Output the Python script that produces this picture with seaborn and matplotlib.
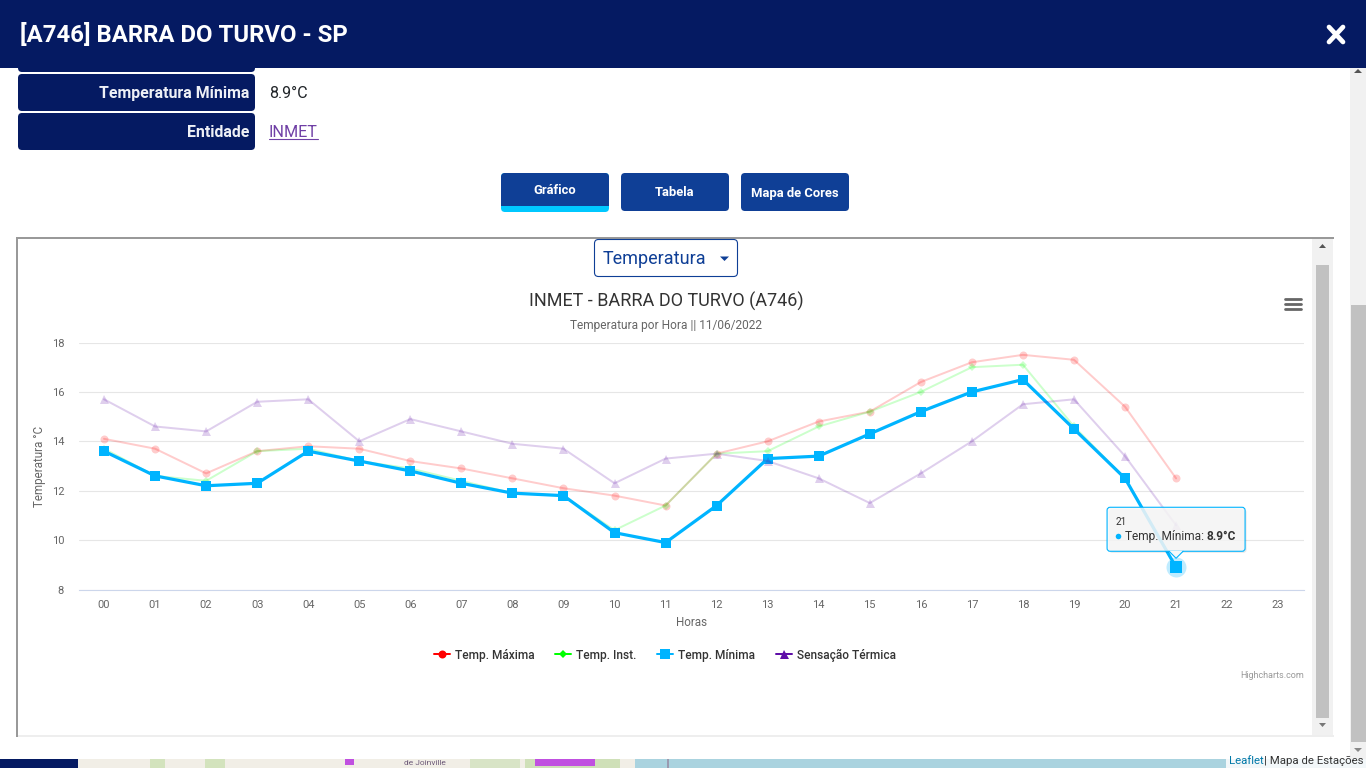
import matplotlib
matplotlib.use('Agg')
import matplotlib.pyplot as plt
from matplotlib.lines import Line2D
from matplotlib.patches import FancyBboxPatch, Polygon, Rectangle
import pandas as pd
import seaborn as sns

hours = list(range(22))
hour_labels = ['%02d' % h for h in range(24)]
y_ticks = [8, 10, 12, 14, 16, 18]

temp_max = [14.1, 13.7, 12.7, 13.6, 13.8, 13.7, 13.2, 12.9, 12.5, 12.1, 11.8, 11.4,
            13.5, 14.0, 14.8, 15.2, 16.4, 17.2, 17.5, 17.3, 15.4, 12.5]
temp_inst = [13.7, 12.6, 12.4, 13.6, 13.7, 13.2, 12.9, 12.4, 11.9, 11.8, 10.4, 11.4,
             13.5, 13.6, 14.6, 15.2, 16.0, 17.0, 17.1, 14.6, 12.5, 8.9]
temp_min = [13.6, 12.6, 12.2, 12.3, 13.6, 13.2, 12.8, 12.3, 11.9, 11.8, 10.3, 9.9,
            11.4, 13.3, 13.4, 14.3, 15.2, 16.0, 16.5, 14.5, 12.5, 8.9]
sensacao = [15.7, 14.6, 14.4, 15.6, 15.7, 14.0, 14.9, 14.4, 13.9, 13.7, 12.3, 13.3,
            13.5, 13.2, 12.5, 11.5, 12.7, 14.0, 15.5, 15.7, 13.4, 10.6]

NAVY = '#051a62'
BUTTON = '#0f3f96'
CYAN = '#00c8ff'
BLUE = '#00b4ff'
W, H = 1366, 768

sns.set_theme(style='white')
plt.rcParams['font.family'] = ['Roboto', 'DejaVu Sans']

fig = plt.figure(figsize=(W / 100, H / 100), dpi=100, facecolor='white')

# page chrome, in pixel coordinates
bg = fig.add_axes([0, 0, 1, 1], zorder=0)
bg.set_xlim(0, W)
bg.set_ylim(H, 0)
bg.axis('off')


def rect(x0, y0, x1, y1, color, axes=bg):
    axes.add_patch(Rectangle((x0, y0), x1 - x0, y1 - y0, fc=color, ec='none'))


def rounded(x0, y0, x1, y1, color, r=4, ec='none', lw=0, axes=bg):
    axes.add_patch(FancyBboxPatch((x0 + r, y0 + r), x1 - x0 - 2 * r, y1 - y0 - 2 * r,
                                  boxstyle='round,pad=%d,rounding_size=%d' % (r, r),
                                  fc=color, ec=ec, lw=lw))


def tri(points, color, axes=bg):
    axes.add_patch(Polygon(points, closed=True, fc=color, ec='none'))


# info rows
rounded(18, 60, 255, 72, NAVY)
rounded(18, 74, 255, 111, NAVY)
rounded(18, 113, 255, 150, NAVY)
bg.text(249, 93.5, 'Temperatura Mínima', color='#eef0f6', fontsize=11.4, fontweight='bold', ha='right', va='center')
bg.text(249, 132.5, 'Entidade', color='#eef0f6', fontsize=11.4, fontweight='bold', ha='right', va='center')
bg.text(269, 93.5, '8.9°C', color='#212529', fontsize=11.6, ha='left', va='center')
bg.text(269, 132.5, 'INMET', color='#6f3fa5', fontsize=11.6, ha='left', va='center')
bg.plot([269, 318], [139, 139], color='#6f3fa5', lw=0.8)

# header
rect(0, 0, W, 68, NAVY)
bg.text(20, 35.5, '[A746] BARRA DO TURVO - SP', color='white', fontsize=17.2, fontweight='bold', ha='left', va='center')
bg.plot([1329, 1343], [27, 42], color='white', lw=3.4, solid_capstyle='round')
bg.plot([1343, 1329], [27, 42], color='white', lw=3.4, solid_capstyle='round')

# buttons
rounded(501, 173, 609, 212, CYAN)
rounded(501, 173, 609, 206, BUTTON)
rect(501, 198, 609, 206, BUTTON)
rounded(621, 173, 729, 211, BUTTON)
rounded(741, 173, 849, 211, BUTTON)
bg.text(554.5, 190, 'Gráfico', color='white', fontsize=9.4, fontweight='bold', ha='center', va='center')
bg.text(674.5, 193, 'Tabela', color='white', fontsize=9.4, fontweight='bold', ha='center', va='center')
bg.text(794.5, 193, 'Mapa de Cores', color='white', fontsize=9.4, fontweight='bold', ha='center', va='center')

# chart frame and scrollbars
rect(16, 237, 1334, 239, '#999999')
rect(16, 237, 18, 737, '#999999')
rect(18, 735, 1334, 737, '#eeeeee')
rect(1312, 239, 1333, 735, '#f1f1f1')
rect(1316, 265, 1329, 718, '#c1c1c1')
tri([(1319, 248), (1326, 248), (1322.5, 244)], '#555555')
tri([(1319, 723), (1326, 723), (1322.5, 727)], '#777777')
rect(1350, 68, W, 759, '#f1f1f1')
rect(1351, 305, W, 742, '#c1c1c1')
tri([(1354, 73), (1362, 73), (1358, 69)], '#555555')
tri([(1354, 748), (1362, 748), (1358, 752)], '#888888')

# select box
rounded(594.5, 239.5, 737.5, 276.5, 'white', r=4, ec=BUTTON, lw=0.8)
bg.text(603, 259, 'Temperatura', color=BUTTON, fontsize=13, ha='left', va='center')
tri([(720, 256.5), (729, 256.5), (724.5, 261)], BUTTON)

# chart titles
bg.text(666, 301.5, 'INMET - BARRA DO TURVO (A746)', color='#333333', fontsize=13, ha='center', va='center')
bg.text(666, 325, 'Temperatura por Hora || 11/06/2022', color='#666666', fontsize=8.6, ha='center', va='center')
for y in [299, 304, 309]:
    bg.plot([1285, 1301], [y, y], color='#666666', lw=2)
bg.text(1304, 675, 'Highcharts.com', color='#999999', fontsize=6.5, ha='right', va='center')

# map strip at the bottom
rect(0, 759, 78, H, NAVY)
rect(78, 759, 635, H, '#f1eee6')
rect(150, 759, 165, H, '#d3e3bd')
rect(205, 759, 225, H, '#d3e3bd')
rect(470, 759, 520, H, '#d8e4c6')
rect(525, 759, 620, H, '#cfe0b8')
rect(535, 759, 595, 766, '#c050e0')
rect(345, 759, 354, 765, '#c050e0')
rect(635, 759, 1226, H, '#aad3df')
rect(667, 759, 669, H, '#9a9ab0')
rect(1226, 759, W, H, '#f2f7f9')
bg.text(425, 763, 'de Joinville', color='#6d5a78', fontsize=6, ha='center', va='center')
clip = Rectangle((1226, 759), W - 1226, H - 759, transform=bg.transData)
t = bg.text(1229, 761, 'Leaflet', color='#0078a8', fontsize=8.2, ha='left', va='center')
t.set_clip_path(clip)
t = bg.text(1264, 761, '| Mapa de Estações', color='#333333', fontsize=8.2, ha='left', va='center')
t.set_clip_path(clip)

# the chart itself
x0, x1 = 78.5, 1303.7
y_top, y_bot = 342.5, 589.5
ax = fig.add_axes([x0 / W, 1 - y_bot / H, (x1 - x0) / W, (y_bot - y_top) / H], zorder=2)
ax.patch.set_alpha(0)

series = [
    ('Temp. Máxima', temp_max, '#ff0000', 'o', 2.0, 8, 0.2),
    ('Temp. Inst.', temp_inst, '#00ff00', 'D', 2.0, 5.5, 0.2),
    ('Temp. Mínima', temp_min, BLUE, 's', 3.2, 10, 1.0),
    ('Sensação Térmica', sensacao, '#5f0fa8', '^', 2.0, 9, 0.2),
]

handles = []
for name, values, color, marker, lw, ms, alpha in series:
    df = pd.DataFrame({'hora': hours, 'temp': values})
    sns.lineplot(data=df, x='hora', y='temp', ax=ax, color=color, marker=marker, linewidth=lw * 0.72,
                 markersize=ms * 0.72, markeredgewidth=0, alpha=alpha, legend=False, errorbar=None,
                 clip_on=False)
    handles.append(Line2D([], [], color=color, marker=marker, lw=1.44, markersize=ms * 0.72, markeredgewidth=0))

# hovered point
ax.scatter([hours[-1]], [temp_min[-1]], s=(20 * 0.72) ** 2, color=BLUE, alpha=0.25, linewidths=0, zorder=1.5, clip_on=False)
ax.scatter([hours[-1]], [temp_min[-1]], s=(11.5 * 0.72) ** 2, color=BLUE, marker='s', linewidths=0, zorder=5, clip_on=False)

ax.set_xlim(-0.5, 23.5)
ax.set_ylim(8, 18)
ax.set_xticks(range(24))
ax.set_xticklabels(hour_labels)
ax.set_yticks(y_ticks)
ax.grid(axis='y', color='#e6e6e6', lw=0.8)
ax.set_axisbelow(True)
ax.tick_params(axis='x', length=0, pad=7.3, labelsize=8, labelcolor='#666666')
ax.tick_params(axis='y', length=0, pad=10.4, labelsize=8, labelcolor='#666666')
for side in ['top', 'right', 'left']:
    ax.spines[side].set_visible(False)
ax.spines['bottom'].set_color('#ccd6eb')
ax.spines['bottom'].set_linewidth(0.8)
ax.set_xlabel('Horas', color='#666666', fontsize=8.4, labelpad=4.3)
ax.set_ylabel('Temperatura °C', color='#666666', fontsize=8.4, labelpad=4.2)

ax.legend(handles, [s[0] for s in series], ncol=4, loc='center', frameon=False,
          bbox_to_anchor=((665 - x0) / (x1 - x0), -(655 - y_bot) / (y_bot - y_top)),
          labelcolor='#333333', handlelength=1.34, handletextpad=0.42, columnspacing=1.74,
          prop={'size': 8.6, 'weight': 'medium'})

# tooltip, placed from the hovered data point
top = fig.add_axes([0, 0, 1, 1], zorder=3)
top.set_xlim(0, W)
top.set_ylim(H, 0)
top.axis('off')
px, py = ax.transData.transform((hours[-1], temp_min[-1]))
py = H - py
bx0, bx1, by0, by1 = px - 69, px + 69, py - 60, py - 16
rounded(bx0 + 2, by0 + 2, bx1 + 1.5, by1 + 1.5, '#00000018', r=3, axes=top)
top.add_patch(FancyBboxPatch((bx0 + 3, by0 + 3), bx1 - bx0 - 6, by1 - by0 - 6,
                             boxstyle='round,pad=3,rounding_size=3', fc='#f8f8f8', ec='none', alpha=0.85))
top.add_patch(FancyBboxPatch((bx0 + 3, by0 + 3), bx1 - bx0 - 6, by1 - by0 - 6,
                             boxstyle='round,pad=3,rounding_size=3', fc='none', ec=BLUE, lw=0.8))
tri([(px - 7, by1 - 0.5), (px + 7, by1 - 0.5), (px, by1 + 7)], '#f8f8f8', axes=top)
top.plot([px - 7, px, px + 7], [by1, by1 + 7, by1], color=BLUE, lw=0.8)
top.text(bx0 + 8, by0 + 14.5, hour_labels[hours[-1]], color='#333333', fontsize=7.2, ha='left', va='center')
top.scatter([bx0 + 11], [by0 + 29], s=16, color=BLUE, linewidths=0)
label = top.text(bx0 + 18, by0 + 29, 'Temp. Mínima: ', color='#333333', fontsize=8.6, ha='left', va='center')
fig.canvas.draw()
end = label.get_window_extent().x1
top.text(end - 1, by0 + 29, '%.1f°C' % temp_min[-1], color='#333333', fontsize=8.6, fontweight='bold', ha='left', va='center')

fig.savefig('out.png', dpi=100)
